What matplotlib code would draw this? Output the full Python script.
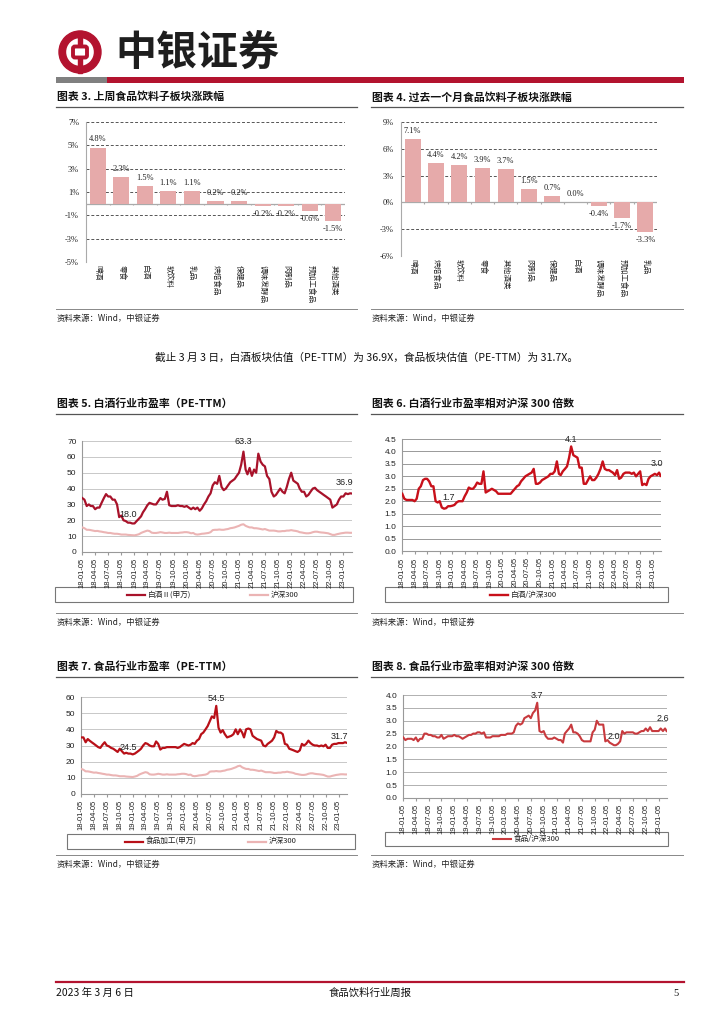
import matplotlib
matplotlib.use('Agg')
import matplotlib.pyplot as plt
import numpy as np
import pandas as pd
from matplotlib.patches import Rectangle, Annulus, FancyBboxPatch

# ---------------- data ----------------
cats_week = ['啤酒', '零食', '白酒', '软饮料', '乳品', '烘焙食品', '保健品', '调味发酵品', '肉制品', '预加工食品', '其他酒类']
vals_week = [4.8, 2.3, 1.5, 1.1, 1.1, 0.2, 0.2, -0.2, -0.2, -0.6, -1.5]

cats_month = ['啤酒', '烘焙食品', '软饮料', '零食', '其他酒类', '肉制品', '保健品', '白酒', '调味发酵品', '预加工食品', '乳品']
vals_month = [7.1, 4.4, 4.2, 3.9, 3.7, 1.5, 0.7, 0.0, -0.4, -1.7, -3.3]

# semi-monthly observations (5th and 20th of each month), last point 2023-03-03
baijiu_pe = [
    34, 33, 29, 30, 29, 29, 27, 28, 28, 31, 34, 36.5, 35, 35, 33, 33, 30, 22, 23, 20, 19.5, 18.5, 18.5, 18,
    18, 19.5, 21, 22.5, 25, 27, 29.5, 31, 30.5, 30, 30, 32, 34, 33, 33.5, 38, 29.5, 29, 29, 29, 29.5, 29, 29, 28.5,
    29, 28, 27, 28, 27, 28, 26, 27.5, 30, 32, 35, 37, 42, 44, 43, 48, 41, 39, 40, 42, 44, 45, 46, 48,
    50, 55, 63.3, 52, 49, 53, 48, 52, 50, 62, 57, 55, 54, 48, 46, 38, 35, 36, 38, 40, 38, 37, 41, 46,
    50, 45, 44, 43, 40, 38, 38, 35, 36, 38, 40, 40.5, 39, 38, 37, 36, 35, 34, 33, 28, 29, 30, 33, 35,
    35, 37, 36.5, 37, 36.9]
hs300_pe = [
    15.5, 15, 14, 14, 13.8, 13.5, 13.2, 13.3, 13, 12.8, 12.5, 12.3, 12, 12, 11.7, 11.5, 11.5, 11.3, 11, 11, 11, 10.8, 10.7, 10.6,
    10.5, 10.8, 11.2, 12, 12.5, 13, 13.5, 13.2, 12.2, 12, 12, 12.2, 12.5, 12.3, 12, 12, 12.2, 12, 12, 12, 12, 12.2, 12.3, 12.5,
    12.5, 12.3, 11.8, 12, 11.2, 11, 11.2, 11.5, 11.6, 11.8, 12, 12.5, 13.8, 14, 14, 14.2, 14, 14, 14.3, 14.5, 15, 15.2, 15.5, 16,
    16.5, 17.2, 17.5, 16.5, 16, 15.5, 15.5, 15, 15, 14.8, 14.5, 14.2, 14.5, 14, 13.5, 13.5, 13.5, 13.3, 13, 13, 13.2, 13.2, 13.5, 13.5,
    13.8, 13.5, 13.3, 13, 12.5, 12.3, 12, 11.8, 11.8, 12, 12.5, 12.8, 12.8, 12.5, 12.3, 12.2, 12, 11.8, 11.3, 10.8, 10.8, 11.2, 11.5, 11.8,
    12, 12.2, 12.2, 12.1, 12.1]
baijiu_rel = [
    2.3, 2.1, 2.05, 2.05, 2.05, 2.05, 2.0, 2.1, 2.5, 2.6, 2.85, 2.9, 2.9, 2.8, 2.6, 2.6, 2.0, 1.95, 2.0, 1.75, 1.7, 1.72, 1.8, 1.8,
    1.82, 1.85, 1.95, 2.0, 2.0, 2.0, 2.2, 2.35, 2.55, 2.5, 2.5, 2.6, 2.75, 2.7, 2.7, 3.2, 2.35, 2.4, 2.45, 2.5, 2.45, 2.4, 2.3, 2.3,
    2.3, 2.3, 2.3, 2.3, 2.3, 2.4, 2.5, 2.6, 2.65, 2.8, 2.9, 3.0, 3.05, 3.1, 3.15, 3.3, 2.7, 2.7, 2.75, 2.85, 2.9, 2.95, 3.0, 3.1,
    3.1, 3.2, 3.6, 3.1, 3.05, 3.2, 3.3, 3.4, 3.75, 4.2, 3.85, 3.8, 3.75, 3.35, 3.35, 2.7, 2.7, 2.85, 3.0, 2.85, 2.85, 2.95, 3.1, 3.3,
    3.6, 3.3, 3.25, 3.25, 3.2, 3.15, 3.05, 3.25, 2.9, 2.95, 3.1, 3.15, 3.15, 3.15, 3.1, 3.15, 3.0, 3.1, 3.2, 2.65, 2.7, 2.65, 2.9, 3.0,
    3.05, 3.1, 3.05, 3.15, 3.02]
food_pe = [
    35, 35, 32, 34, 33, 32, 31, 30, 29, 28.5, 30.5, 32, 30, 29.5, 28.5, 28, 27, 26, 28, 26.5, 25, 25.5, 25, 25,
    24.5, 25, 26, 27, 28, 30, 31.5, 31, 30, 29.5, 29.5, 32.5, 31, 27.5, 28.5, 28.5, 29, 29, 29, 29, 29, 28.5, 29, 30,
    31, 30.5, 30, 30.5, 31.5, 31, 33, 34, 37, 38, 40, 42, 45, 48, 47, 54.5, 41, 38, 39.5, 37, 35, 35.5, 36, 37,
    40, 37, 40, 38, 35, 40, 40.5, 40, 36, 35, 34, 33.5, 33, 30, 29.5, 31, 32, 33, 35, 39, 38, 38, 37, 31,
    30.5, 28, 27.5, 27, 26.5, 26, 27, 31, 30, 31, 33, 31.5, 30.5, 30, 30, 29.5, 30, 29.5, 30.5, 28.5, 28.5, 30.5, 31, 31,
    31.5, 31.5, 31.5, 32, 31.7]
food_rel = [
    2.35, 2.25, 2.3, 2.3, 2.3, 2.25, 2.35, 2.2, 2.3, 2.3, 2.5, 2.5, 2.45, 2.45, 2.4, 2.4, 2.35, 2.35, 2.45, 2.3, 2.35, 2.4, 2.4, 2.4,
    2.45, 2.4, 2.4, 2.35, 2.3, 2.35, 2.4, 2.45, 2.45, 2.5, 2.5, 2.55, 2.55, 2.5, 2.55, 2.35, 2.35, 2.35, 2.4, 2.4, 2.4, 2.4, 2.45, 2.45,
    2.45, 2.5, 2.5, 2.5, 2.55, 2.8, 2.9, 2.85, 2.9, 3.1, 3.15, 3.2, 3.1, 3.3, 3.4, 3.7, 2.6, 2.55, 2.6, 2.4, 2.3, 2.3, 2.3, 2.35,
    2.3, 2.25, 2.25, 2.15, 2.5, 2.6, 2.7, 2.85, 2.55, 2.55, 2.5, 2.4, 2.25, 2.2, 2.2, 2.2, 2.2, 2.55, 2.65, 3.0, 2.85, 2.85, 2.85, 2.2,
    2.25, 2.15, 2.1, 2.05, 2.05, 2.1, 2.2, 2.6, 2.5, 2.55, 2.55, 2.55, 2.55, 2.5, 2.5, 2.55, 2.6, 2.6, 2.7, 2.6, 2.75, 2.6, 2.6, 2.6,
    2.6, 2.7, 2.6, 2.7, 2.6]

date_list = []
for yy in range(2018, 2024):
    for mm in range(1, 13):
        if (yy, mm) <= (2023, 2):
            date_list.append(pd.Timestamp(yy, mm, 5))
            date_list.append(pd.Timestamp(yy, mm, 20))
date_list.append(pd.Timestamp(2023, 3, 3))
dates = pd.DatetimeIndex(date_list)

tick_dates = pd.DatetimeIndex([pd.Timestamp(2018 + (i * 3) // 12, (i * 3) % 12 + 1, 5) for i in range(21)])

# ---------------- styling ----------------
W, H = 724, 1024
RED = '#B3132F'
BAR = '#E6AAAA'
CJK = ['Noto Sans CJK SC', 'DejaVu Sans']
SERIF = ['Liberation Serif', 'DejaVu Serif']
SANS = ['Liberation Sans', 'DejaVu Sans']
plt.rcParams['font.family'] = CJK

fig = plt.figure(figsize=(W / 100, H / 100), dpi=100)
fig.patch.set_facecolor('white')

ov = fig.add_axes([0, 0, 1, 1], zorder=0)
ov.set_xlim(0, W)
ov.set_ylim(H, 0)
ov.axis('off')
ov.patch.set_alpha(0)


def add_ax(l, t, r, b):
    return fig.add_axes([l / W, 1 - b / H, (r - l) / W, (b - t) / H], zorder=2)


# ---------------- header ----------------
ov.add_patch(Annulus((80, 52), 21, 6.5, color=RED))
ov.add_patch(Rectangle((78, 31), 4.2, 42, color=RED))
ov.add_patch(FancyBboxPatch((73, 46.5), 14, 11, boxstyle='round,pad=0,rounding_size=2',
                            facecolor='white', edgecolor=RED, linewidth=2.8))
ov.text(115, 53, '中银证券', fontsize=29.5, fontweight='bold', color='#1e1e1e', ha='left', va='center',
        family=CJK)
ov.add_patch(Rectangle((56, 77), 51, 6, color='#808080', lw=0))
ov.add_patch(Rectangle((107, 77), 577, 6, color=RED, lw=0))

# footer
ov.plot([56, 684], [982, 982], color=RED, lw=1.6)
ov.text(56, 993, '2023 年 3 月 6 日', fontsize=7.5, ha='left', va='center', color='#111')
ov.text(370, 993, '食品饮料行业周报', fontsize=7.5, ha='center', va='center', color='#111')
ov.text(676, 993, '5', fontsize=7.5, ha='center', va='center', color='#111', family=SERIF)

# body text
ov.text(155, 357, '截止 3 月 3 日，白酒板块估值（PE-TTM）为 36.9X，食品板块估值（PE-TTM）为 31.7X。',
        fontsize=7.7, ha='left', va='center', color='#111')


def section(x0, x1, y_title, title, y_src_line):
    ov.text(x0 + 1, y_title, title, fontsize=7.8, fontweight='bold', ha='left', va='center', color='#111')
    ov.plot([x0, x1], [y_title + 10, y_title + 10], color='#555', lw=0.9)
    ov.plot([x0, x1], [y_src_line, y_src_line], color='#888', lw=0.7)
    ov.text(x0 + 1, y_src_line + 9, '资料来源：Wind，中银证券', fontsize=6, style='italic', ha='left',
            va='center', color='#222')


section(56, 357, 97, '图表 3. 上周食品饮料子板块涨跌幅', 309)
section(371, 683, 97, '图表 4. 过去一个月食品饮料子板块涨跌幅', 309)
section(56, 357, 404, '图表 5. 白酒行业市盈率（PE-TTM）', 613)
section(371, 683, 404, '图表 6. 白酒行业市盈率相对沪深 300 倍数', 613)
section(56, 357, 667, '图表 7. 食品行业市盈率（PE-TTM）', 855)
section(371, 683, 667, '图表 8. 食品行业市盈率相对沪深 300 倍数', 855)


# ---------------- bar charts ----------------
def bar_chart(box, cats, vals, ylim, yticks):
    ax = add_ax(*box)
    x = np.arange(len(cats))
    ax.bar(x, vals, width=0.68, color=BAR, zorder=3)
    ax.set_xlim(-0.5, len(cats) - 0.5)
    ax.set_ylim(*ylim)
    ax.set_yticks(yticks)
    ax.set_yticklabels([f'{t}%' for t in yticks], fontsize=6, family=SERIF, color='#222')
    for t in yticks:
        ax.axhline(t, color='#555', lw=0.7, ls=(0, (3, 2)), zorder=1)
    ax.axhline(0, color='#aaa', lw=0.9, zorder=2)
    ax.vlines(x[:-1] + 0.5, -0.012 * (ylim[1] - ylim[0]), 0, color='#aaa', lw=0.8, zorder=2)
    for s in ['top', 'right', 'bottom']:
        ax.spines[s].set_visible(False)
    ax.spines['left'].set_color('#aaa')
    ax.tick_params(axis='y', length=0, pad=5)
    ax.set_xticks([])
    ax.patch.set_alpha(0)
    span = ylim[1] - ylim[0]
    for i, (c, v) in enumerate(zip(cats, vals)):
        ax.text(i, ylim[0] - 0.02 * span, c, rotation=270, ha='center', va='top', fontsize=5.5,
                color='#222')
        if v >= 0:
            ax.text(i, v + 0.03 * span, f'{v:.1f}%', ha='center', va='bottom', fontsize=6, family=SERIF,
                    color='#222')
        else:
            ax.text(i, v - 0.03 * span, f'{v:.1f}%', ha='center', va='top', fontsize=6, family=SERIF,
                    color='#222')
    return ax


bar_chart((86, 122, 345, 262), cats_week, vals_week, (-5, 7), [-5, -3, -1, 1, 3, 5, 7])
bar_chart((401, 122, 657, 256), cats_month, vals_month, (-6, 9), [-6, -3, 0, 3, 6, 9])


# ---------------- line charts ----------------
def line_chart(box, series, ylim, yticks, fmt, grid_color, annots):
    ax = add_ax(*box)
    for vals, color, lw in series:
        ax.plot(dates, vals, color=color, lw=lw, zorder=3, solid_joinstyle='round')
    ax.set_xlim(pd.Timestamp(2018, 1, 3), pd.Timestamp(2023, 3, 6))
    ax.set_ylim(*ylim)
    ax.set_yticks(yticks)
    ax.set_yticklabels([fmt.format(t) for t in yticks], fontsize=6, family=SANS, color='#222')
    ax.yaxis.grid(True, color=grid_color, lw=0.7, zorder=0)
    ax.set_xticks(tick_dates)
    ax.set_xticklabels([d.strftime('%y-%m-%d') for d in tick_dates], rotation=90, fontsize=5.5,
                       family=SANS, color='#222')
    ax.tick_params(axis='x', length=2.5, color='#999', pad=2)
    ax.tick_params(axis='y', length=0, pad=4)
    for s in ['top', 'right']:
        ax.spines[s].set_visible(False)
    ax.spines['left'].set_color('#999')
    ax.spines['bottom'].set_color('#999')
    ax.patch.set_alpha(0)
    for idx, vals, txt, dx, dy in annots:
        ax.annotate(txt, (dates[idx], vals[idx]), xytext=(dx, dy), textcoords='offset points',
                    ha='center', va='bottom', fontsize=6.5, family=SANS, color='#222')
    return ax


def legend_box(l, t, r, b, items):
    ov.add_patch(Rectangle((l, t), r - l, b - t, fill=False, edgecolor='#777', lw=0.8))
    yc = (t + b) / 2
    for x0, color, lw, label in items:
        ov.plot([x0, x0 + 18], [yc, yc], color=color, lw=lw)
        ov.text(x0 + 21, yc, label, fontsize=5.5, ha='left', va='center', color='#222')


C5 = '#A8122A'
PINK = '#EBB4B4'
line_chart((82, 441, 352, 552),
           [(hs300_pe, PINK, 1.5), (baijiu_pe, C5, 1.6)],
           (0, 70), list(range(0, 71, 10)), '{}', '#c8c8c8',
           [(int(np.argmax(baijiu_pe)), baijiu_pe, '63.3', 0, 4),
            (int(np.argmin(baijiu_pe)), baijiu_pe, '18.0', -3, 3),
            (len(baijiu_pe) - 1, baijiu_pe, '36.9', -5, 5)])
legend_box(55, 587, 353, 602, [(127, C5, 1.6, '白酒Ⅱ(申万)'), (250, PINK, 1.6, '沪深300')])

C6 = '#C8101A'
line_chart((402, 439, 661, 551),
           [(baijiu_rel, C6, 1.7)],
           (0, 4.5), [i * 0.5 for i in range(10)], '{:.1f}', '#999999',
           [(int(np.argmax(baijiu_rel)), baijiu_rel, '4.1', 0, 2),
            (int(np.argmin(baijiu_rel)), baijiu_rel, '1.7', 3, 5),
            (len(baijiu_rel) - 1, baijiu_rel, '3.0', -3, 6)])
legend_box(385, 587, 668, 602, [(490, C6, 1.7, '白酒/沪深300')])

C7 = '#B81018'
line_chart((81, 697, 347, 794),
           [(hs300_pe, PINK, 1.5), (food_pe, C7, 1.6)],
           (0, 60), list(range(0, 61, 10)), '{}', '#c8c8c8',
           [(int(np.argmax(food_pe)), food_pe, '54.5', 0, 2),
            (int(np.argmin(food_pe)), food_pe, '24.5', -3, 2),
            (len(food_pe) - 1, food_pe, '31.7', -5, 1)])
legend_box(67, 834, 355, 849, [(125, C7, 1.6, '食品加工(申万)'), (248, PINK, 1.6, '沪深300')])

C8 = '#C83A3E'
line_chart((403, 695, 667, 798),
           [(food_rel, C8, 1.5)],
           (0, 4.0), [i * 0.5 for i in range(9)], '{:.1f}', '#b0b0b0',
           [(int(np.argmax(food_rel)), food_rel, '3.7', 0, 2),
            (int(np.argmin(food_rel)), food_rel, '2.0', 0, 3),
            (len(food_rel) - 1, food_rel, '2.6', -3, 6)])
legend_box(385, 832, 668, 846, [(493, C8, 1.5, '食品/沪深300')])

fig.savefig('out.png', dpi=100, facecolor='white')
